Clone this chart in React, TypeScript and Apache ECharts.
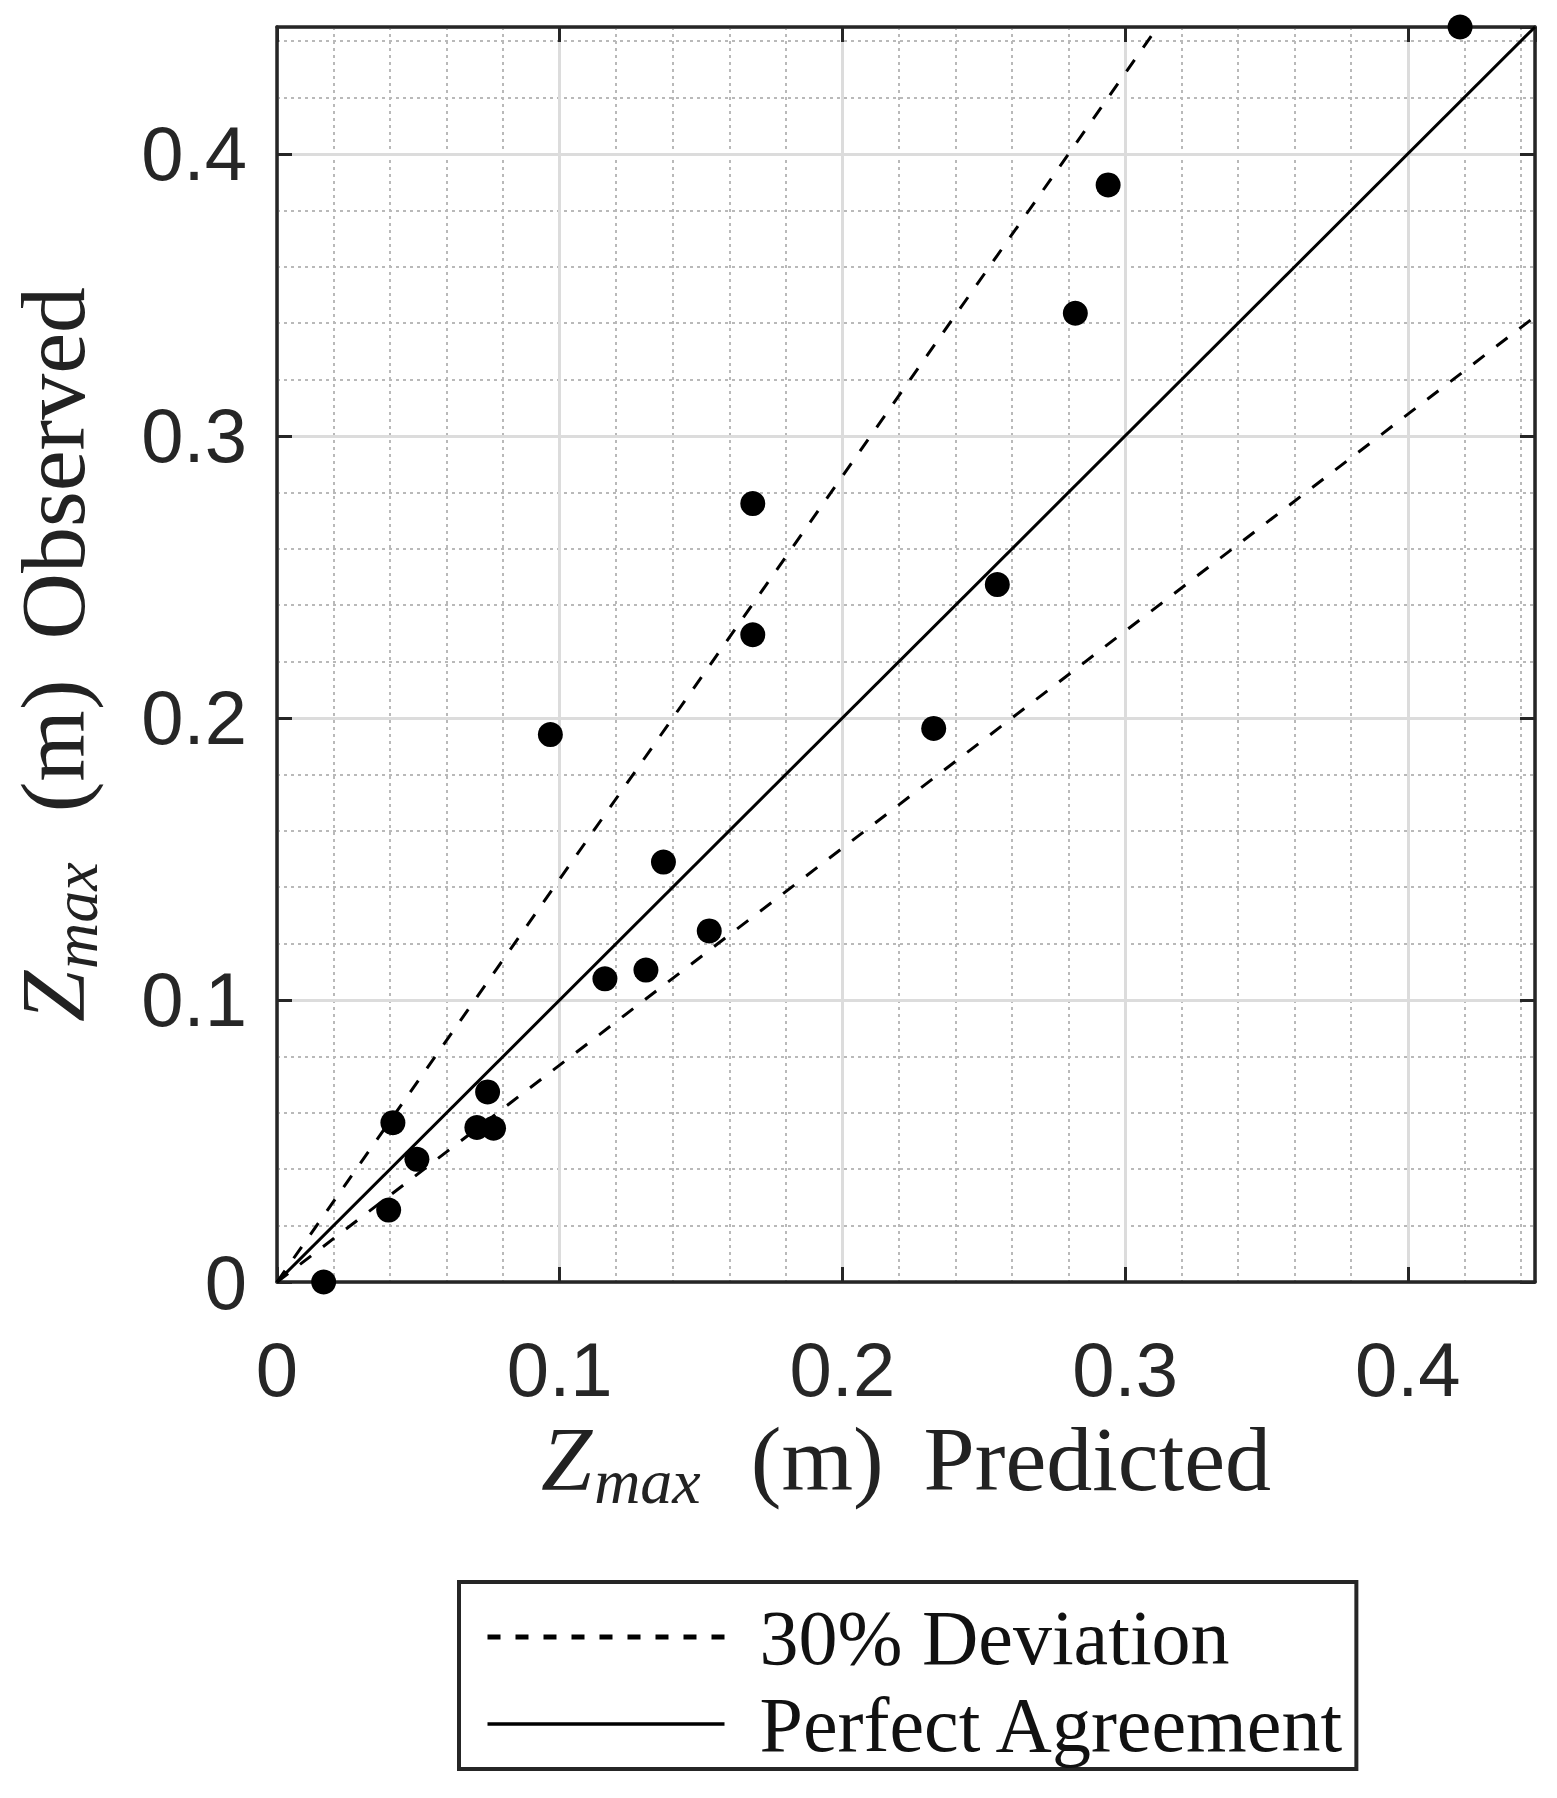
import React, { useEffect, useRef } from "react";
import * as echarts from "echarts";

// Scatter data: predicted (x) vs observed (y) Zmax in metres
const predicted = [0.4185, 0.294, 0.2824, 0.1683, 0.1683, 0.0967, 0.2323, 0.2548, 0.1367, 0.1529, 0.1305, 0.116, 0.0745, 0.0707, 0.0766, 0.041, 0.0495, 0.0395, 0.0165];
const observed = [0.445, 0.389, 0.3435, 0.276, 0.2295, 0.1941, 0.1963, 0.2473, 0.1489, 0.1245, 0.1106, 0.1075, 0.0674, 0.0548, 0.0545, 0.0565, 0.0435, 0.0255, 0.0];

// Reference lines (end points)
const upperX = [0, 0.3115];
const upperY = [0, 0.445];
const lowerX = [0, 0.445];
const lowerY = [0, 0.3423];
const perfectX = [0, 0.445];
const perfectY = [0, 0.445];

const axisMin = 0;
const axisMax = 0.445;
const majorStep = 0.1;
const minorStep = 0.02;

const legendNames = ["30% Deviation", "Perfect Agreement"];

const AX = "#262626";
const SANS = "Liberation Sans, Arial, Helvetica, sans-serif";
const SERIF = "Liberation Serif, Times New Roman, serif";

const pairs = (xs: number[], ys: number[]) => xs.map((x, i) => [x, ys[i]]);

const titleRich = {
  z: { fontFamily: SERIF, fontStyle: "italic", fontSize: 92, color: "#222", verticalAlign: "top" },
  s: { fontFamily: SERIF, fontStyle: "italic", fontSize: 64, color: "#222", verticalAlign: "top", padding: [36, 0, 0, 2] },
  p: { fontFamily: SERIF, fontSize: 92, color: "#222", verticalAlign: "top", padding: [0, 0, 0, 50] },
  n: { fontFamily: SERIF, fontSize: 92, color: "#222", verticalAlign: "top", padding: [0, 0, 0, 40] },
};

const fmt = (v: number) => String(Math.round(v * 100) / 100);

function mainAxis(kind: "x" | "y") {
  return {
    type: "value",
    min: axisMin,
    max: axisMax,
    interval: majorStep,
    position: kind === "x" ? "bottom" : "left",
    z: 3,
    axisLine: { show: true, onZero: false, lineStyle: { color: AX, width: 3.5 } },
    axisTick: { show: true, inside: true, length: 15, lineStyle: { color: AX, width: 3 } },
    axisLabel: {
      show: true,
      margin: kind === "x" ? 49 : 30,
      fontSize: 76,
      fontFamily: SANS,
      color: AX,
      showMaxLabel: false,
      formatter: fmt,
    },
    splitLine: { show: true, lineStyle: { color: "#dcdcdc", width: 3 } },
    name: kind === "x" ? "{z|Z}{s|max}{p|(m)}{n|Predicted}" : "{z|Z}{s|max}{p|(m)}{n|Observed}",
    nameLocation: "middle",
    nameGap: kind === "x" ? 131 : 170,
    nameMoveOverlap: false,
    nameTextStyle: { rich: titleRich },
  };
}

function frameAxis(kind: "x" | "y") {
  return {
    type: "value",
    min: axisMin,
    max: axisMax,
    interval: majorStep,
    position: kind === "x" ? "top" : "right",
    z: 3,
    axisLine: { show: true, onZero: false, lineStyle: { color: AX, width: 3.5 } },
    axisTick: { show: true, inside: true, length: 15, lineStyle: { color: AX, width: 3 } },
    axisLabel: { show: false },
    splitLine: { show: false },
  };
}

function minorAxis() {
  return {
    type: "value",
    min: axisMin,
    max: axisMax,
    interval: minorStep,
    z: 1,
    axisLine: { show: false },
    axisTick: { show: false },
    axisLabel: { show: false },
    splitLine: { show: true, lineStyle: { color: "#b9b9b9", width: 2, type: [3, 4] } },
  };
}

export default function App() {
  const ref = useRef<HTMLDivElement>(null);
  useEffect(() => {
    if (!ref.current) return;
    const chart = echarts.init(ref.current, null, { renderer: "svg" });
    chart.setOption({
      animation: false,
      backgroundColor: "#ffffff",
      textStyle: { fontFamily: SANS },
      grid: { left: 277, right: 22, top: 27, bottom: 516, outerBoundsMode: "none", containLabel: false },
      xAxis: [mainAxis("x"), frameAxis("x"), minorAxis()],
      yAxis: [mainAxis("y"), frameAxis("y"), minorAxis()],
      legend: {
        orient: "vertical",
        left: 459,
        top: 1582,
        itemWidth: 237,
        itemHeight: 78,
        itemGap: 9,
        padding: [16, 10, 6, 26],
        borderColor: AX,
        borderWidth: 4,
        backgroundColor: "#ffffff",
        selectedMode: false,
        textStyle: { fontFamily: SERIF, fontSize: 78, lineHeight: 50, color: "#111", padding: [0, 0, 28, 30] },
        data: [
          { name: legendNames[0], lineStyle: { width: 5, type: [13, 15] }, itemStyle: { opacity: 0 } },
          { name: legendNames[1], lineStyle: { width: 3.5 }, itemStyle: { opacity: 0 } },
        ],
      },
      series: [
        {
          name: legendNames[0],
          type: "line",
          xAxisIndex: 0,
          yAxisIndex: 0,
          data: pairs(upperX, upperY),
          symbol: "none",
          lineStyle: { color: "#000", width: 3, type: [14, 15] },
          z: 4,
        },
        {
          name: legendNames[0],
          type: "line",
          xAxisIndex: 0,
          yAxisIndex: 0,
          data: pairs(lowerX, lowerY),
          symbol: "none",
          lineStyle: { color: "#000", width: 3, type: [14, 15] },
          z: 4,
        },
        {
          name: legendNames[1],
          type: "line",
          xAxisIndex: 0,
          yAxisIndex: 0,
          data: pairs(perfectX, perfectY),
          symbol: "none",
          lineStyle: { color: "#000", width: 3 },
          z: 4,
        },
        {
          name: "Data",
          type: "scatter",
          xAxisIndex: 0,
          yAxisIndex: 0,
          data: pairs(predicted, observed),
          symbol: "circle",
          symbolSize: 25,
          itemStyle: { color: "#000", opacity: 1 },
          clip: false,
          z: 10,
        },
      ],
    });
    return () => chart.dispose();
  }, []);
  return (
    <div
      ref={ref}
      style={{ position: "absolute", left: 0, top: 0, width: 1557, height: 1798, background: "#fff" }}
    />
  );
}
